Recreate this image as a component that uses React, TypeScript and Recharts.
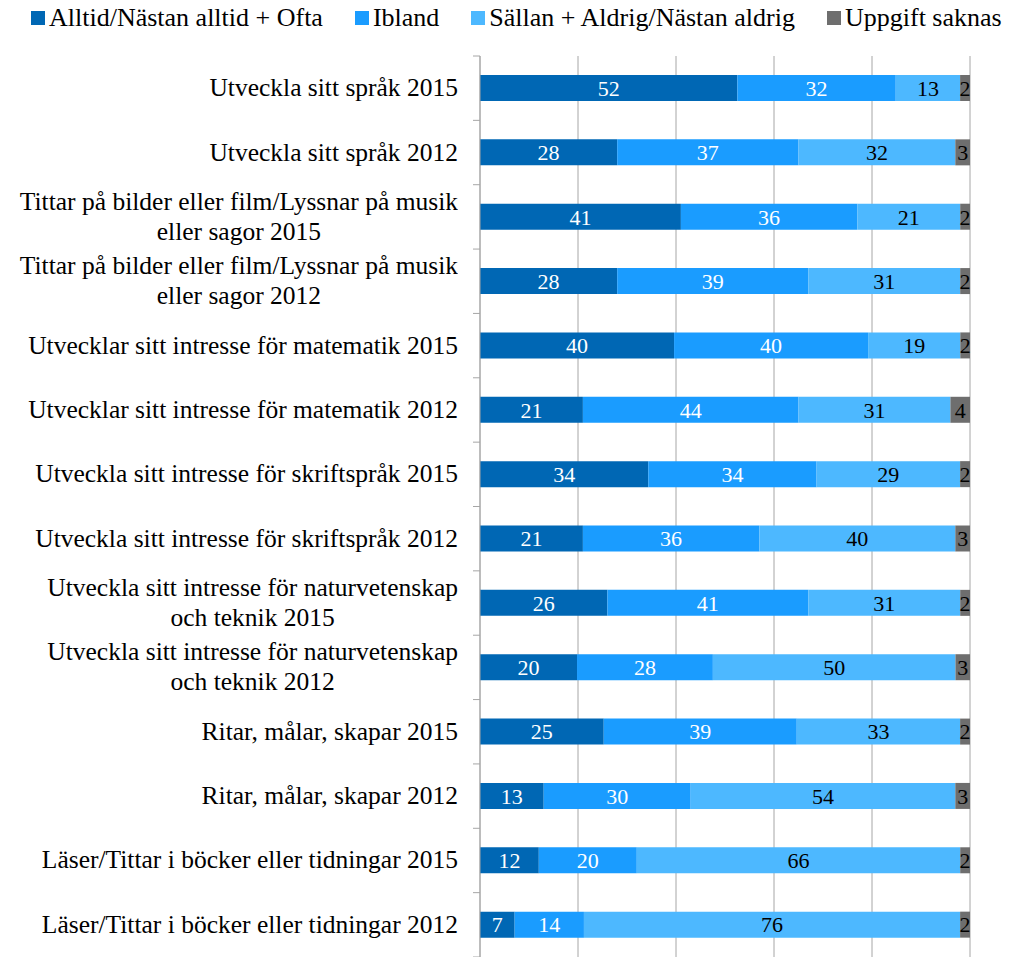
import { BarChart, Bar, XAxis, YAxis, CartesianGrid, Legend, LabelList } from 'recharts';

const categories = [
  'Utveckla sitt språk 2015',
  'Utveckla sitt språk 2012',
  'Tittar på bilder eller film/Lyssnar på musik\neller sagor 2015',
  'Tittar på bilder eller film/Lyssnar på musik\neller sagor 2012',
  'Utvecklar sitt intresse för matematik 2015',
  'Utvecklar sitt intresse för matematik 2012',
  'Utveckla sitt intresse för skriftspråk 2015',
  'Utveckla sitt intresse för skriftspråk 2012',
  'Utveckla sitt intresse för naturvetenskap\noch teknik 2015',
  'Utveckla sitt intresse för naturvetenskap\noch teknik 2012',
  'Ritar, målar, skapar 2015',
  'Ritar, målar, skapar 2012',
  'Läser/Tittar i böcker eller tidningar 2015',
  'Läser/Tittar i böcker eller tidningar 2012',
];

const alltid = [52, 28, 41, 28, 40, 21, 34, 21, 26, 20, 25, 13, 12, 7];
const ibland = [32, 37, 36, 39, 40, 44, 34, 36, 41, 28, 39, 30, 20, 14];
const sallan = [13, 32, 21, 31, 19, 31, 29, 40, 31, 50, 33, 54, 66, 76];
const saknas = [2, 3, 2, 2, 2, 4, 2, 3, 2, 3, 2, 3, 2, 2];

// share of the whole bar (100% stacked)
const xTicks = [0, 0.2, 0.4, 0.6, 0.8, 1];

const series = [
  { key: 'alltid', name: 'Alltid/Nästan alltid + Ofta', color: '#0067B4', label: '#ffffff' },
  { key: 'ibland', name: 'Ibland', color: '#1A9CFF', label: '#ffffff' },
  { key: 'sallan', name: 'Sällan + Aldrig/Nästan aldrig', color: '#4DB8FF', label: '#000000' },
  { key: 'saknas', name: 'Uppgift saknas', color: '#6E6E6E', label: '#000000' },
];

const data = categories.map((name, i) => ({
  name,
  alltid: alltid[i],
  ibland: ibland[i],
  sallan: sallan[i],
  saknas: saknas[i],
}));

const FONT = "'Liberation Serif', serif";
const WIDTH = 1009;
const HEIGHT = 957;
const LEGEND_H = 56;
const AXIS_W = 480;
const GRID = '#A6A6A6';
const BAND = (HEIGHT - LEGEND_H) / categories.length;

function CategoryTick(props: any) {
  const { y, payload, index } = props;
  const last = index === categories.length - 1;
  return (
    <g>
      <line x1={AXIS_W - 7} x2={AXIS_W} y1={y - BAND / 2} y2={y - BAND / 2} stroke={GRID} />
      {last && (
        <line x1={AXIS_W - 7} x2={AXIS_W} y1={y + BAND / 2} y2={y + BAND / 2} stroke={GRID} />
      )}
      <foreignObject x={0} y={y - 40} width={AXIS_W - 22} height={80}>
        <div
          style={{
            height: '100%',
            display: 'flex',
            alignItems: 'center',
            justifyContent: 'flex-end',
          }}
        >
          <div
            style={{
              textAlign: 'center',
              whiteSpace: 'pre',
              lineHeight: '30px',
              fontSize: 25.5,
              fontFamily: FONT,
              color: '#000',
            }}
          >
            {payload.value}
          </div>
        </div>
      </foreignObject>
    </g>
  );
}

function LegendContent() {
  return (
    <div
      style={{
        height: LEGEND_H,
        display: 'flex',
        alignItems: 'flex-start',
        paddingLeft: 31,
        paddingTop: 3,
        boxSizing: 'border-box',
        gap: 32,
        whiteSpace: 'nowrap',
      }}
    >
      {series.map((s) => (
        <div key={s.key} style={{ display: 'flex', alignItems: 'center', gap: 4 }}>
          <span style={{ width: 14, height: 14, background: s.color, display: 'inline-block' }} />
          <span style={{ fontFamily: FONT, fontSize: 26, color: '#000', lineHeight: '30px' }}>{s.name}</span>
        </div>
      ))}
    </div>
  );
}

export default function App() {
  return (
    <div style={{ position: 'absolute', left: 0, top: 0, width: WIDTH, height: HEIGHT, background: '#fff' }}>
      <BarChart
        width={WIDTH}
        height={HEIGHT}
        data={data}
        layout="vertical"
        stackOffset="expand"
        margin={{ top: 0, right: 39, left: 0, bottom: 0 }}
        style={{ fontFamily: FONT }}
      >
        <CartesianGrid vertical horizontal={false} stroke={GRID} />
        <XAxis type="number" domain={[0, 1]} ticks={xTicks} hide />
        <YAxis
          type="category"
          dataKey="name"
          width={AXIS_W}
          axisLine={{ stroke: GRID }}
          tickLine={false}
          tick={<CategoryTick />}
          interval={0}
        />
        <Legend
          verticalAlign="top"
          height={LEGEND_H}
          wrapperStyle={{ left: 0, top: 0, width: WIDTH, height: LEGEND_H }}
          content={<LegendContent />}
        />
        {series.map((s) => (
          <Bar
            key={s.key}
            dataKey={s.key}
            name={s.name}
            stackId="a"
            fill={s.color}
            barSize={26}
            isAnimationActive={false}
          >
            <LabelList
              dataKey={s.key}
              position="center"
              fill={s.label}
              fontSize={22}
              fontFamily={FONT}
            />
          </Bar>
        ))}
      </BarChart>
    </div>
  );
}
